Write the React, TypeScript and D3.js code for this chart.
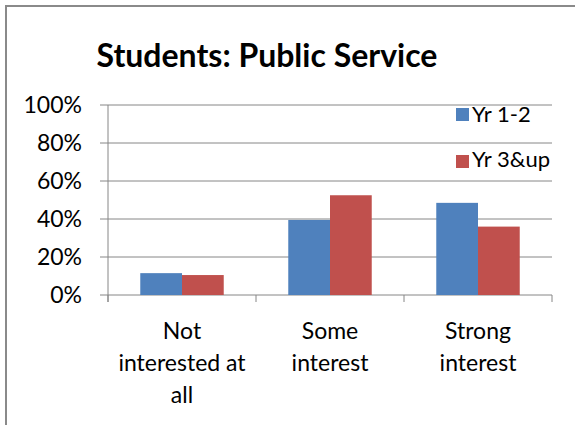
import React from "react";
import * as d3 from "d3";

const categories: string[][] = [["Not", "interested at", "all"], ["Some", "interest"], ["Strong", "interest"]];
const seriesNames = ["Yr 1-2", "Yr 3&up"];
const yr12 = [11.5, 39.5, 48.5];
const yr3up = [10.5, 52.5, 36];
const yTicks = [0, 20, 40, 60, 80, 100];
const colors = ["#4F81BD", "#C0504D"];

const W = 575, H = 425;
const plot = { left: 108, right: 552, top: 105, bottom: 295 };
const FONT = "Lato, 'Open Sans', sans-serif";

export default function App() {
  const x = d3.scaleBand<number>().domain(d3.range(categories.length)).range([plot.left, plot.right]);
  const y = d3.scaleLinear().domain([0, 100]).range([plot.bottom, plot.top]);
  const step = x.bandwidth();
  const barW = step * 0.282;
  const series = [yr12, yr3up];

  return (
    <svg width={W} height={H} style={{ position: "absolute", left: 0, top: 0, background: "#fff" }} fontFamily={FONT}>
      <rect x={0} y={0} width={W} height={H} fill="#fff" />
      <rect x={6} y={6} width={W + 20} height={H + 20} fill="none" stroke="#8a8a8a" strokeWidth={2} />
      <text x={267} y={67} textAnchor="middle" fontSize={32} fontWeight="bold" fill="#000">Students: Public Service</text>
      {yTicks.map((t) => (
        <g key={t}>
          <line x1={plot.left - 8} x2={plot.right} y1={y(t)} y2={y(t)} stroke="#868686" strokeWidth={1} />
          <text x={82} y={y(t) + 8} textAnchor="end" fontSize={23} fill="#000">{t}%</text>
        </g>
      ))}
      <line x1={plot.left} x2={plot.left} y1={plot.top} y2={plot.bottom + 7} stroke="#868686" />
      {d3.range(categories.length + 1).map((i) => {
        const xx = plot.left + i * step;
        return <line key={i} x1={xx} x2={xx} y1={plot.bottom} y2={plot.bottom + 7} stroke="#868686" />;
      })}
      {series.map((vals, si) =>
        vals.map((v, ci) => {
          const cx = (x(ci) as number) + step / 2;
          const bx = cx - barW + si * barW;
          return <rect key={`${si}-${ci}`} x={bx} y={y(v)} width={barW} height={y(0) - y(v)} fill={colors[si]} />;
        })
      )}
      {categories.map((lines, ci) => (
        <text key={ci} textAnchor="middle" fontSize={23} fill="#000">
          {lines.map((l, li) => (
            <tspan key={li} x={(x(ci) as number) + step / 2} y={339 + li * 32}>{l}</tspan>
          ))}
        </text>
      ))}
      {seriesNames.map((n, i) => (
        <g key={n}>
          <rect x={456} y={108 + i * 47} width={13} height={13} fill={colors[i]} />
          <text x={472} y={122 + i * 45} fontSize={22} fill="#000">{n}</text>
        </g>
      ))}
    </svg>
  );
}
